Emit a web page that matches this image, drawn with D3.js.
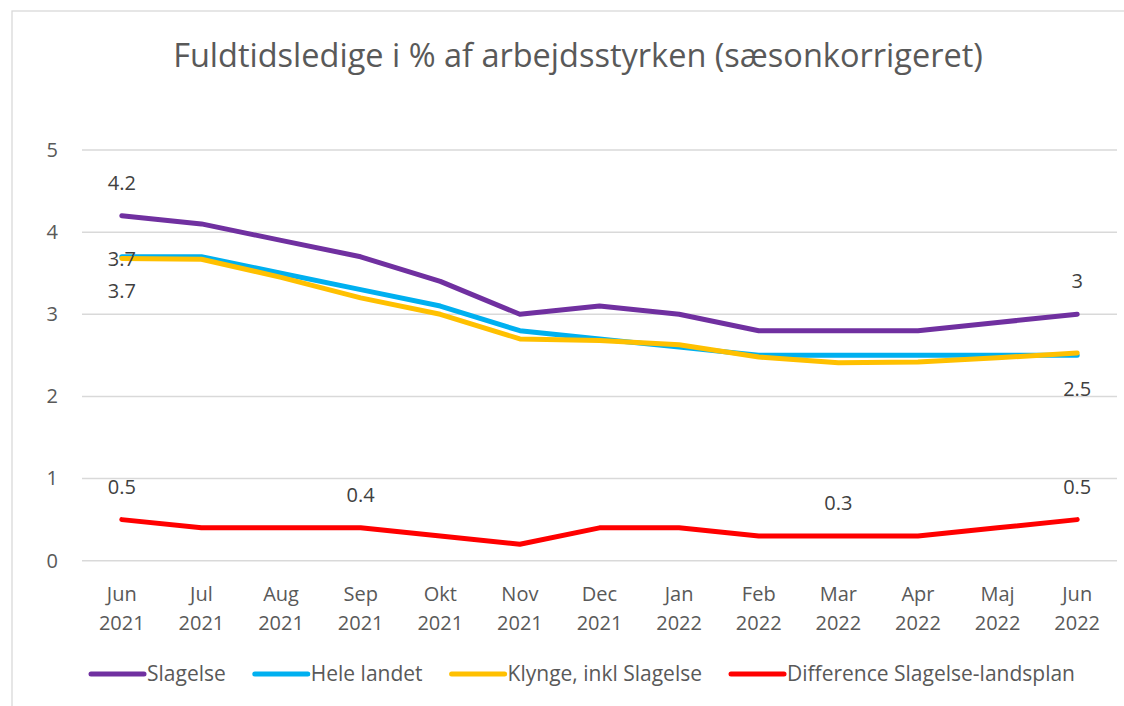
<!DOCTYPE html>
<html>
<head>
<meta charset="utf-8">
<script src="https://cdn.jsdelivr.net/npm/d3@7"></script>
<style>
  body { margin: 0; background: #fff; }
  text { font-family: "Open Sans", "Noto Sans", sans-serif; }
</style>
</head>
<body>
<div id="chart"></div>
<script>
var width = 1124,
    height = 706;

var months = ["Jun 2021", "Jul 2021", "Aug 2021", "Sep 2021", "Okt 2021", "Nov 2021", "Dec 2021",
              "Jan 2022", "Feb 2022", "Mar 2022", "Apr 2022", "Maj 2022", "Jun 2022"];
var seriesNames = ["Slagelse", "Hele landet", "Klynge, inkl Slagelse", "Difference Slagelse-landsplan"];
var slagelse   = [4.2, 4.1, 3.9, 3.7, 3.4, 3.0, 3.1, 3.0, 2.8, 2.8, 2.8, 2.9, 3.0];
var heleLandet = [3.7, 3.7, 3.5, 3.3, 3.1, 2.8, 2.7, 2.6, 2.5, 2.5, 2.5, 2.5, 2.5];
var klynge     = [3.68, 3.67, 3.45, 3.2, 3.0, 2.7, 2.68, 2.63, 2.48, 2.41, 2.42, 2.47, 2.53];
var difference = [0.5, 0.4, 0.4, 0.4, 0.3, 0.2, 0.4, 0.4, 0.3, 0.3, 0.3, 0.4, 0.5];
var yTicks = [0, 1, 2, 3, 4, 5];

// which points get a data label, and where (above / below / center)
var labels = [
    {series: 0, index: 0, pos: "above"},
    {series: 0, index: 12, pos: "above"},
    {series: 2, index: 0, pos: "center"},
    {series: 1, index: 0, pos: "below"},
    {series: 1, index: 12, pos: "below"},
    {series: 3, index: 0, pos: "above"},
    {series: 3, index: 3, pos: "above"},
    {series: 3, index: 9, pos: "above"},
    {series: 3, index: 12, pos: "above"}
];

var colors = ["#7030A0", "#00B0F0", "#FFC000", "#FF0000"];
var allSeries = [slagelse, heleLandet, klynge, difference];

var svg = d3.select("#chart").append("svg")
    .attr("width", width)
    .attr("height", height);

// chart area border
svg.append("rect")
    .attr("x", 12).attr("y", 11)
    .attr("width", 1130).attr("height", 720)
    .attr("fill", "none")
    .attr("stroke", "#D9D9D9")
    .attr("stroke-width", 1.3);

svg.append("text")
    .attr("x", 578).attr("y", 67)
    .attr("text-anchor", "middle")
    .attr("fill", "#595959")
    .style("font-size", "32.5px")
    .text("Fuldtidsledige i % af arbejdsstyrken (sæsonkorrigeret)");

var x = d3.scaleBand().domain(months).range([82, 1117]);
var y = d3.scaleLinear().domain([0, 5]).range([560.7, 150]);

// gridlines
svg.append("g").selectAll("line")
    .data(yTicks)
    .enter().append("line")
    .attr("x1", 82).attr("x2", 1117)
    .attr("y1", function (d) { return y(d); })
    .attr("y2", function (d) { return y(d); })
    .attr("stroke", "#D9D9D9")
    .attr("stroke-width", 1.5);

// y axis labels
var yAxis = svg.append("g")
    .attr("transform", "translate(82,0)")
    .call(d3.axisLeft(y).tickValues(yTicks).tickSize(0).tickPadding(24).tickFormat(d3.format("d")));
yAxis.select(".domain").remove();
yAxis.selectAll("text")
    .attr("fill", "#595959")
    .style("font-size", "20px")
    .style("font-family", "'Open Sans', sans-serif");

// x axis labels, two lines each
var xAxis = svg.append("g")
    .attr("transform", "translate(0,560.7)")
    .call(d3.axisBottom(x).tickSize(0).tickFormat(""));
xAxis.select(".domain").remove();
xAxis.selectAll(".tick").append("text")
    .attr("fill", "#595959")
    .attr("text-anchor", "middle")
    .style("font-size", "20px")
    .style("font-family", "'Open Sans', sans-serif")
    .selectAll("tspan")
    .data(function (d) { return d.split(" "); })
    .enter().append("tspan")
    .attr("x", 0)
    .attr("y", function (d, i) { return 40 + i * 29; })
    .text(function (d) { return d; });

var line = d3.line()
    .x(function (d, i) { return x(months[i]) + x.bandwidth() / 2; })
    .y(function (d) { return y(d); });

svg.append("g").selectAll("path")
    .data(allSeries)
    .enter().append("path")
    .attr("d", line)
    .attr("fill", "none")
    .attr("stroke", function (d, i) { return colors[i]; })
    .attr("stroke-width", 5)
    .attr("stroke-linecap", "round")
    .attr("stroke-linejoin", "round");

// data labels
var offsets = {above: -26, below: 41, center: 8};
svg.append("g").selectAll("text")
    .data(labels)
    .enter().append("text")
    .attr("x", function (d) { return x(months[d.index]) + x.bandwidth() / 2; })
    .attr("y", function (d) { return y(allSeries[d.series][d.index]) + offsets[d.pos]; })
    .attr("text-anchor", "middle")
    .attr("fill", "#404040")
    .style("font-size", "20px")
    .text(function (d) { return String(allSeries[d.series][d.index].toFixed(1)).replace(".0", ""); });

// legend
var legend = svg.append("g");
var cursor = 0;
var gap = 27;
seriesNames.forEach(function (name, i) {
    var g = legend.append("g");
    g.append("line")
        .attr("x1", 2).attr("x2", 55)
        .attr("y1", 0).attr("y2", 0)
        .attr("stroke", colors[i])
        .attr("stroke-width", 5)
        .attr("stroke-linecap", "round");
    var t = g.append("text")
        .attr("x", 58).attr("y", 7)
        .attr("fill", "#595959")
        .style("font-size", "21px")
        .text(name);
    var w = 58 + t.node().getComputedTextLength();
    g.attr("transform", "translate(" + cursor + ",0)");
    cursor += w + gap;
});
var total = cursor - gap;
legend.attr("transform", "translate(" + (582 - total / 2) + ",674)");
</script>
</body>
</html>
